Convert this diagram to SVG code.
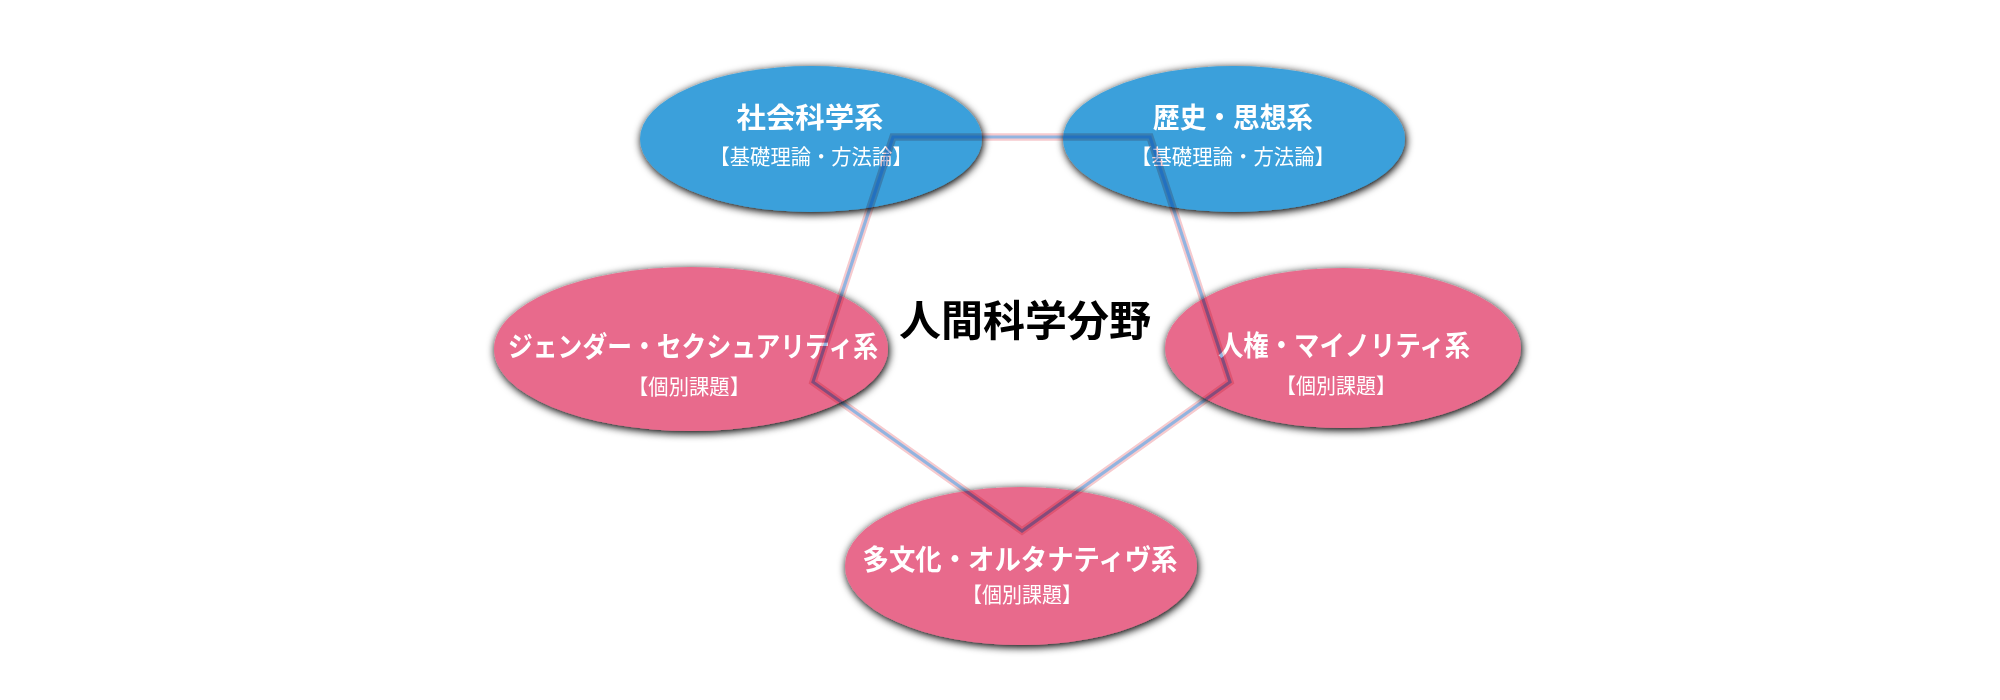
<svg xmlns="http://www.w3.org/2000/svg" width="2000" height="700" viewBox="0 0 2000 700">
<style>
.blue{fill:#3aa0db}
.pink{fill:#e86b8c}
.t{font-family:"Noto Sans CJK JP","Noto Sans",sans-serif;fill:#fff;text-anchor:middle}
.h{font-size:28px;font-weight:bold}
.s{font-size:21px}
.c{font-family:"Noto Sans CJK JP","Noto Sans",sans-serif;font-size:42px;font-weight:bold;fill:#000;text-anchor:middle}
.band{fill:none;stroke:#f6cace;stroke-width:7.5;stroke-linejoin:miter}
.line{fill:none;stroke:#92b4e0;stroke-width:3.2;stroke-linejoin:miter}
</style>
<defs>
<filter id="sh" x="-20%" y="-30%" width="140%" height="160%">
<feGaussianBlur in="SourceAlpha" stdDeviation="4.5"/>
<feOffset dx="1" dy="2"/>
<feComponentTransfer><feFuncA type="linear" slope="1.1"/></feComponentTransfer>
<feMerge><feMergeNode/><feMergeNode in="SourceGraphic"/></feMerge>
</filter>
</defs>
<rect width="2000" height="700" fill="#fff"/>
<text class="c" x="1025" y="336">人間科学分野</text>
<g id="n1"><ellipse class="blue" cx="811" cy="139" rx="171" ry="73" filter="url(#sh)"/>
<text class="t h" x="810" y="128" textLength="147" lengthAdjust="spacingAndGlyphs">社会科学系</text><text class="t s" x="811" y="164" textLength="203" lengthAdjust="spacingAndGlyphs">【基礎理論・方法論】</text></g>
<g id="n2"><ellipse class="blue" cx="1234" cy="139" rx="171" ry="73" filter="url(#sh)"/>
<text class="t h" x="1233" y="128" textLength="160" lengthAdjust="spacingAndGlyphs">歴史・思想系</text><text class="t s" x="1233" y="164" textLength="204" lengthAdjust="spacingAndGlyphs">【基礎理論・方法論】</text></g>
<g id="n3"><ellipse class="pink" cx="691" cy="349" rx="197" ry="82" filter="url(#sh)"/>
<text class="t h" x="693" y="357" textLength="370" lengthAdjust="spacingAndGlyphs">ジェンダー・セクシュアリティ系</text><text class="t s" x="689" y="394" textLength="122" lengthAdjust="spacingAndGlyphs">【個別課題】</text></g>
<g id="n4"><ellipse class="pink" cx="1343" cy="348" rx="178" ry="80" filter="url(#sh)"/>
<text class="t h" x="1344" y="356" textLength="252" lengthAdjust="spacingAndGlyphs">人権・マイノリティ系</text><text class="t s" x="1336" y="393" textLength="120" lengthAdjust="spacingAndGlyphs">【個別課題】</text></g>
<g id="n5"><ellipse class="pink" cx="1021" cy="566" rx="176" ry="79" filter="url(#sh)"/>
<text class="t h" x="1020" y="570" textLength="315" lengthAdjust="spacingAndGlyphs">多文化・オルタナティヴ系</text><text class="t s" x="1022" y="602" textLength="120" lengthAdjust="spacingAndGlyphs">【個別課題】</text></g>
<g id="connectors" style="mix-blend-mode:multiply">
<polygon class="band" points="893,137 1150,137 1230,382 1022,531 813,382"/>
<polygon class="line" points="893,137 1150,137 1230,382 1022,531 813,382"/>
</g>
</svg>
